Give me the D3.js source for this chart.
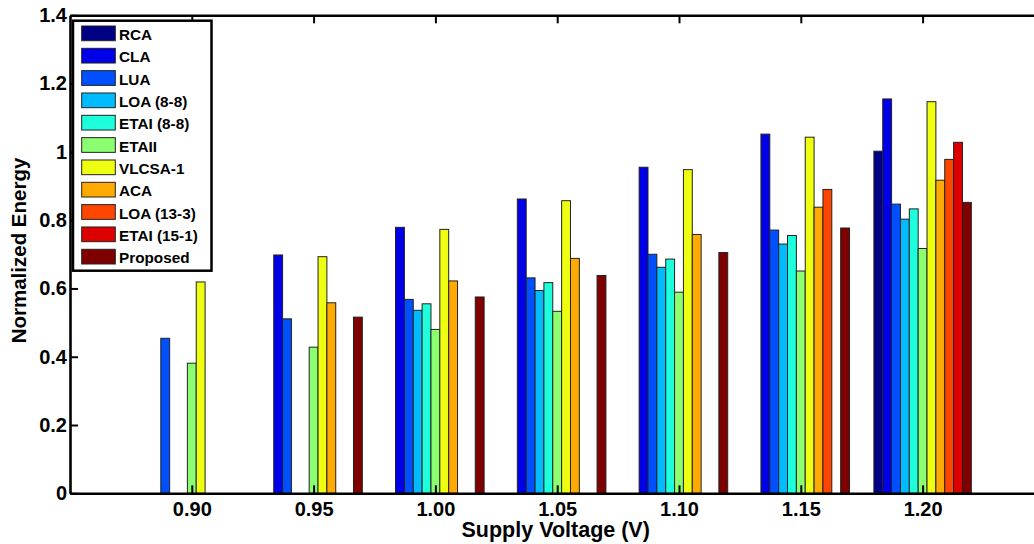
<!DOCTYPE html>
<html>
<head>
<meta charset="utf-8">
<script src="https://cdn.jsdelivr.net/npm/d3@7"></script>
<style>
  body { margin: 0; background: #fff; }
  text { font-family: "Liberation Sans", Arial, sans-serif; font-weight: bold; fill: #000; }
</style>
</head>
<body>
<div id="chart-area"></div>
<script>

// data

let voltages = ["0.90", "0.95", "1.00", "1.05", "1.10", "1.15", "1.20"];

let series = ["RCA", "CLA", "LUA", "LOA (8-8)", "ETAI (8-8)", "ETAII",
  "VLCSA-1", "ACA", "LOA (13-3)", "ETAI (15-1)", "Proposed"];

let colors = ["#000085", "#0000e8", "#0050ff", "#00bcff", "#1effdc", "#8cff70",
  "#eeff12", "#ffaa00", "#ff4600", "#dc0000", "#7f0000"];

// one array per series, null = no bar at that voltage
let rca      = [null,  null,  null,  null,  null,  null,  1.002];
let cla      = [null,  0.698, 0.779, 0.862, 0.955, 1.052, 1.155];
let lua      = [0.454, 0.511, 0.568, 0.631, 0.700, 0.771, 0.847];
let loa88    = [null,  null,  0.536, 0.594, 0.662, 0.730, 0.803];
let etai88   = [null,  null,  0.555, 0.617, 0.686, 0.755, 0.833];
let etaii    = [0.381, 0.428, 0.480, 0.533, 0.589, 0.651, 0.717];
let vlcsa    = [0.619, 0.693, 0.773, 0.857, 0.948, 1.043, 1.147];
let aca      = [null,  0.558, 0.622, 0.688, 0.758, 0.838, 0.917];
let loa133   = [null,  null,  null,  null,  null,  0.890, 0.978];
let etai151  = [null,  null,  null,  null,  null,  null,  1.028];
let proposed = [null,  0.516, 0.575, 0.638, 0.705, 0.777, 0.852];

let values = [rca, cla, lua, loa88, etai88, etaii, vlcsa, aca, loa133, etai151, proposed];

let yTicks = [0, 0.2, 0.4, 0.6, 0.8, 1, 1.2, 1.4];

// SVG drawing area

let margin = {top: 15.3, left: 70};
let width = 974.4,
    height = 478;

let svg = d3.select("#chart-area").append("svg")
    .attr("width", 1034)
    .attr("height", 544)
  .append("g")
    .attr("transform", "translate(" + margin.left + "," + margin.top + ")");

// scales

let x = d3.scaleLinear()
    .domain([0, voltages.length + 1])
    .range([0, width]);

let inner = d3.scaleBand()
    .domain(series)
    .range([-0.4, 0.4]);

let y = d3.scaleLinear()
    .domain([0, 1.4])
    .range([height, 0]);

// bars

let bars = [];
values.forEach(function(vals, s){
  vals.forEach(function(v, g){
    if (v != null) bars.push({series: series[s], color: colors[s], group: g + 1, value: v});
  });
});

svg.selectAll(".bar")
  .data(bars)
  .enter().append("rect")
    .attr("class", "bar")
    .attr("x", d => x(d.group + inner(d.series)))
    .attr("width", d => x(d.group + inner(d.series) + inner.bandwidth()) - x(d.group + inner(d.series)))
    .attr("y", d => y(d.value))
    .attr("height", d => height - y(d.value))
    .attr("fill", d => d.color)
    .attr("stroke", "#222")
    .attr("stroke-width", 1);

// axes

let groupTicks = voltages.map((v, i) => i + 1);

let xAxis = d3.axisBottom(x)
    .tickValues(groupTicks)
    .tickFormat((d, i) => voltages[i])
    .tickSize(-8)
    .tickSizeOuter(0)
    .tickPadding(8.5);

let xTop = d3.axisTop(x)
    .tickValues(groupTicks)
    .tickFormat("")
    .tickSize(-8)
    .tickSizeOuter(0);

let yAxis = d3.axisLeft(y)
    .tickValues(yTicks)
    .tickFormat(d3.format(".1~f"))
    .tickSize(-8)
    .tickSizeOuter(0)
    .tickPadding(3);

let xAxisG = svg.append("g")
    .attr("class", "x-axis axis")
    .attr("transform", "translate(0," + height + ")")
    .call(xAxis);

let xTopG = svg.append("g")
    .attr("class", "x-top axis")
    .call(xTop);

let yAxisG = svg.append("g")
    .attr("class", "y-axis axis")
    .call(yAxis);

svg.selectAll(".axis .domain").attr("stroke", "#000").attr("stroke-width", 2.6);
svg.selectAll(".axis .tick line").attr("stroke", "#000").attr("stroke-width", 2);
svg.selectAll(".axis text")
    .attr("fill", "#000")
    .style("font-size", "20px")
    .style("font-family", '"Liberation Sans", Arial, sans-serif')
    .style("font-weight", "bold");

// axis titles

svg.append("text")
    .attr("x", width / 2 - 1.5)
    .attr("y", height + 43.7)
    .attr("text-anchor", "middle")
    .style("font-size", "21.5px")
    .text("Supply Voltage (V)");

svg.append("text")
    .attr("transform", "translate(" + (25.5 - margin.left) + "," + (250.5 - margin.top) + ") rotate(-90)")
    .attr("text-anchor", "middle")
    .style("font-size", "20.5px")
    .text("Normalized Energy");

// legend

let legend = svg.append("g")
    .attr("transform", "translate(" + (73 - margin.left) + "," + (20.7 - margin.top) + ")");

legend.append("rect")
    .attr("x", 0)
    .attr("y", 0)
    .attr("width", 138.5)
    .attr("height", 250)
    .attr("fill", "#fff")
    .attr("stroke", "#000")
    .attr("stroke-width", 2.5);

let rowH = 22.33;

let items = legend.selectAll(".item")
  .data(series)
  .enter().append("g")
    .attr("class", "item")
    .attr("transform", (d, i) => "translate(0," + (5.3 + i * rowH) + ")");

items.append("rect")
    .attr("x", 8.7)
    .attr("y", 0)
    .attr("width", 33.6)
    .attr("height", 14.7)
    .attr("fill", (d, i) => colors[i])
    .attr("stroke", "#222")
    .attr("stroke-width", 1);

items.append("text")
    .attr("x", 46)
    .attr("y", 14)
    .style("font-size", "15.3px")
    .text(d => d);

</script>
</body>
</html>
